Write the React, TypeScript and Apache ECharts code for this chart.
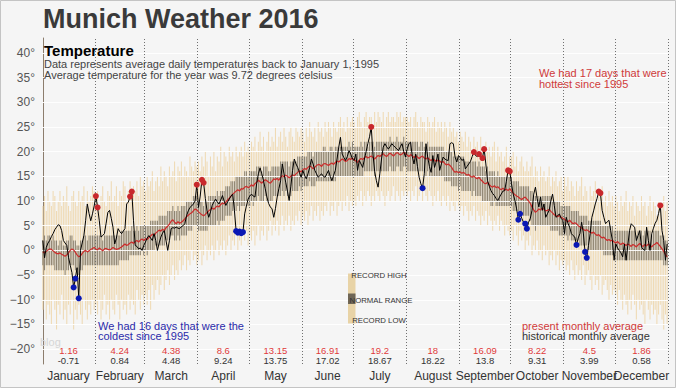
import React, { useEffect, useRef } from "react";
import * as echarts from "echarts";

const MONTHS = ["January", "February", "March", "April", "May", "June", "July", "August", "September", "October", "November", "December"];
const MONTH_DAYS = [31, 29, 31, 30, 31, 30, 31, 31, 30, 31, 30, 31];
const PRESENT_AVG = ["1.16", "4.24", "4.38", "8.6", "13.15", "16.91", "19.2", "18", "16.09", "8.22", "4.5", "1.86"];
const HIST_AVG = ["-0.71", "0.84", "4.48", "9.24", "13.75", "17.02", "18.67", "18.22", "13.8", "9.31", "3.99", "0.58"];
const Y_TICKS = [-20, -15, -10, -5, 0, 5, 10, 15, 20, 25, 30, 35, 40];

// 2016 daily average temperatures, one array per month
const actual2016 = [
  [2.0, -1.5, 0.6, 1.5, 2.0, 2.8, 3.4, 4.2, 4.7, 5.2, 5.0, 4.0, 2.0, 1.5, 1.0, -1.4, -3.0, -4.5, -7.5, -5.7, -3.5, -9.7, 0.0, 1.5, 3.0, 6.0, 9.4, 7.5, 6.0, 7.4, 9.0],
  [11.0, 8.7, 6.0, 2.7, 3.0, 3.4, 5.5, 7.7, 8.1, 6.5, 4.7, 1.3, 2.5, 4.4, 3.8, 3.4, 3.9, 4.4, 9.4, 9.8, 10.9, 11.9, 6.0, 1.0, 0.8, 0.3, 0.5, 0.0, 1.0],
  [1.7, 2.5, 3.0, 2.5, 2.0, 3.4, 2.0, 0.0, 1.5, 2.7, 3.5, 4.0, 2.0, 0.0, 2.0, 4.4, 4.6, 4.5, 4.7, 4.5, 4.4, 4.8, 5.0, 5.4, 7.0, 8.0, 8.7, 9.0, 9.4, 10.0, 13.3],
  [8.7, 11.0, 14.3, 13.7, 10.5, 8.0, 6.7, 7.8, 9.1, 9.8, 10.4, 9.8, 9.4, 10.2, 11.1, 10.0, 9.1, 9.8, 10.4, 11.0, 11.4, 8.1, 3.9, 3.6, 3.8, 3.5, 3.7, 7.4, 9.0, 10.4],
  [11.0, 11.4, 11.0, 10.8, 13.5, 15.5, 16.7, 15.5, 14.1, 12.5, 10.8, 9.5, 8.8, 8.4, 6.7, 8.5, 10.8, 12.5, 14.1, 17.5, 15.5, 13.8, 12.0, 10.1, 13.0, 16.2, 18.5, 17.5, 16.8, 15.8, 14.8],
  [16.2, 15.2, 14.5, 15.5, 16.8, 18.5, 17.5, 16.2, 15.5, 14.8, 15.2, 15.5, 15.0, 14.8, 15.5, 16.2, 15.0, 14.1, 15.2, 16.2, 18.5, 20.9, 22.9, 19.5, 18.8, 18.2, 19.0, 20.2, 19.5, 18.5],
  [18.2, 19.5, 16.2, 18.2, 17.5, 16.8, 18.5, 20.0, 21.6, 23.0, 25.0, 19.5, 16.0, 14.1, 12.8, 15.5, 18.5, 20.9, 21.6, 21.0, 20.5, 21.0, 21.6, 21.2, 20.9, 20.5, 20.2, 21.0, 21.6, 20.0, 18.9],
  [20.5, 21.6, 21.9, 19.0, 17.5, 19.5, 17.0, 14.8, 13.5, 12.6, 15.5, 21.6, 18.9, 17.0, 15.8, 19.2, 16.8, 18.0, 19.5, 16.2, 17.5, 18.9, 18.5, 18.3, 18.2, 21.6, 21.8, 21.6, 18.9, 17.9, 19.2],
  [18.8, 18.2, 18.5, 16.5, 17.0, 17.5, 18.0, 19.0, 19.9, 19.2, 19.0, 19.5, 19.0, 18.7, 20.5, 17.5, 14.1, 13.0, 12.1, 11.5, 11.1, 10.5, 10.1, 10.8, 11.4, 12.0, 12.1, 14.0, 16.2, 16.0],
  [13.5, 11.4, 10.1, 8.4, 6.2, 7.4, 6.5, 5.7, 5.4, 4.4, 5.7, 6.5, 8.1, 11.4, 12.8, 10.5, 8.8, 10.8, 8.1, 9.4, 6.7, 7.4, 8.1, 10.0, 11.4, 9.1, 6.7, 7.0, 7.4, 6.5, 6.1],
  [3.4, 6.7, 5.5, 4.7, 3.4, 3.0, 2.7, 1.1, 2.5, 3.4, 5.7, 3.5, -0.3, -1.5, 1.0, 3.4, 6.7, 8.0, 9.4, 10.5, 11.9, 11.6, 8.1, 6.7, 5.4, 5.8, 6.1, 4.0, 2.0, -2.0],
  [1.3, 0.5, 0.0, -0.5, -1.3, 1.3, -2.0, 1.0, 4.0, 5.4, 5.0, 4.7, 2.0, 3.0, 4.0, 0.7, 0.2, 0.0, 4.7, 2.0, 0.0, 3.4, 4.5, 5.5, 6.1, 7.5, 9.1, 4.0, 2.0, -2.0, 1.3],
];

// historical daily average (1995-2015)
const historicalDaily = [
  [-0.3, -0.5, -0.2, 0.1, 0.3, 0.2, -0.1, -0.4, -0.6, -0.7, -0.5, -0.8, -1.0, -1.2, -0.9, -0.5, 0.0, 0.3, 0.1, -0.4, -0.9, -1.3, -1.1, -0.6, -0.2, 0.0, -0.3, -0.1, 0.2, 0.4, 0.6],
  [0.3, 0.1, 0.5, 0.2, -0.1, 0.3, 0.4, 0.2, 0.1, 0.3, 0.6, 0.4, 0.2, 0.3, 0.5, 0.7, 1.0, 1.3, 1.0, 1.2, 1.5, 1.7, 1.4, 1.8, 2.0, 1.7, 2.1, 2.3, 2.0],
  [2.4, 2.2, 2.6, 2.9, 3.3, 3.0, 3.5, 3.8, 4.1, 3.9, 4.3, 4.0, 4.6, 4.9, 5.3, 5.9, 6.2, 5.7, 5.4, 5.8, 5.5, 5.7, 6.0, 6.4, 6.8, 7.1, 7.4, 7.6, 8.0, 8.4, 8.2],
  [7.8, 7.5, 7.2, 7.0, 7.3, 7.7, 8.0, 8.3, 8.6, 8.3, 8.7, 9.0, 8.8, 9.3, 9.6, 9.4, 9.8, 10.2, 10.6, 11.0, 11.4, 11.7, 12.0, 12.3, 12.0, 12.5, 12.4, 12.8, 13.0, 12.7],
  [12.9, 13.3, 13.0, 13.5, 13.8, 14.2, 13.9, 13.6, 14.0, 14.3, 14.1, 13.8, 13.6, 14.0, 14.5, 14.3, 14.6, 14.2, 14.8, 15.1, 14.9, 15.2, 15.0, 14.7, 15.0, 15.3, 15.1, 15.5, 15.8, 16.1, 15.9],
  [16.3, 16.6, 16.4, 16.8, 17.1, 16.9, 16.5, 16.8, 17.2, 17.4, 17.3, 17.0, 17.5, 17.6, 17.4, 17.2, 17.5, 17.7, 17.4, 17.8, 18.1, 17.9, 18.2, 18.5, 18.3, 18.0, 18.2, 18.6, 18.4, 18.7],
  [18.3, 18.1, 17.8, 18.3, 18.6, 18.4, 18.8, 19.0, 18.7, 18.9, 19.1, 18.8, 18.5, 18.9, 19.2, 19.0, 19.3, 19.6, 19.2, 19.0, 19.4, 19.7, 19.4, 19.1, 19.5, 19.8, 19.6, 19.3, 19.5, 19.9, 19.6],
  [19.3, 19.0, 19.4, 19.1, 18.8, 19.2, 18.9, 18.6, 18.9, 19.1, 18.7, 18.5, 18.8, 18.4, 18.2, 18.5, 18.3, 18.0, 18.3, 18.1, 17.8, 18.0, 17.6, 17.3, 17.5, 17.2, 16.8, 16.2, 15.8, 16.0, 15.7],
  [15.9, 15.6, 15.8, 15.5, 15.2, 15.4, 15.0, 14.8, 15.1, 14.7, 14.5, 14.8, 14.3, 14.0, 13.6, 13.5, 13.8, 13.3, 13.0, 12.8, 13.1, 12.7, 12.9, 12.5, 12.3, 12.6, 12.2, 12.4, 12.1, 12.5],
  [12.0, 11.6, 11.3, 11.0, 10.8, 10.5, 10.3, 10.6, 10.8, 10.4, 10.0, 9.5, 8.8, 8.2, 7.7, 8.0, 8.4, 8.2, 8.6, 8.3, 8.0, 8.1, 8.3, 7.9, 7.6, 7.2, 7.0, 6.8, 7.1, 6.7, 6.5],
  [6.3, 6.0, 5.8, 6.1, 5.7, 5.4, 5.6, 5.4, 5.0, 4.8, 4.5, 4.3, 4.0, 4.2, 3.9, 3.7, 3.5, 3.7, 3.3, 3.0, 3.2, 2.8, 2.5, 2.7, 2.3, 2.0, 2.2, 1.9, 2.1, 1.7],
  [1.5, 1.8, 1.4, 1.2, 1.5, 1.3, 1.0, 1.3, 1.1, 0.8, 1.2, 1.0, 0.7, 1.1, 1.4, 1.0, 0.8, 1.2, 0.9, 1.3, 1.0, 0.7, 1.1, 1.3, 1.6, 1.2, 0.8, 0.3, -0.2, -0.8, -1.3],
];

const recordHigh = [
  [9, 11, 8, 12, 10, 9, 12, 11, 8, 10, 12, 9, 11, 10, 13, 9, 8, 11, 12, 10, 9, 12, 10, 11, 13, 9, 12, 10, 11, 13, 12],
  [11, 12, 9, 11, 13, 10, 9, 12, 11, 14, 10, 11, 13, 9, 12, 11, 14, 13, 10, 12, 14, 12, 13, 12, 14, 11, 15, 13, 14],
  [12, 15, 13, 14, 16, 12, 14, 15, 13, 17, 14, 16, 15, 13, 17, 15, 16, 18, 14, 17, 16, 18, 15, 17, 16, 15, 19, 17, 16, 18, 17],
  [18, 16, 19, 17, 20, 18, 15, 19, 17, 20, 16, 19, 18, 21, 17, 20, 19, 18, 21, 19, 20, 18, 21, 19, 20, 21, 19, 22, 20, 21],
  [20, 22, 21, 23, 20, 22, 24, 21, 23, 20, 22, 24, 21, 23, 22, 25, 21, 23, 24, 22, 25, 23, 21, 24, 25, 23, 22, 25, 24, 23, 25],
  [24, 22, 25, 23, 26, 24, 23, 25, 22, 26, 24, 25, 23, 26, 24, 26, 25, 23, 26, 25, 24, 26, 27, 25, 26, 24, 27, 25, 26, 27],
  [26, 25, 27, 28, 26, 25, 27, 28, 26, 27, 27, 25, 28, 26, 28, 27, 26, 28, 25, 27, 28, 26, 27, 27, 26, 28, 27, 28, 26, 27, 27],
  [27, 26, 27, 25, 27, 28, 26, 25, 27, 26, 26, 24, 27, 26, 25, 26, 27, 24, 26, 25, 26, 24, 26, 25, 23, 26, 24, 25, 23, 24, 22],
  [24, 23, 22, 24, 21, 23, 22, 20, 23, 21, 22, 20, 23, 21, 19, 22, 20, 21, 19, 21, 22, 18, 21, 19, 20, 18, 19, 21, 17, 19],
  [19, 20, 17, 19, 16, 18, 19, 17, 16, 18, 16, 17, 19, 15, 17, 16, 14, 17, 15, 16, 14, 15, 17, 13, 15, 14, 16, 13, 14, 15, 12],
  [15, 13, 15, 12, 14, 13, 11, 14, 12, 13, 15, 11, 13, 12, 10, 13, 11, 12, 14, 10, 12, 11, 13, 10, 11, 9, 12, 10, 11, 9],
  [11, 10, 8, 11, 9, 10, 12, 8, 10, 9, 11, 7, 10, 9, 8, 11, 9, 10, 7, 9, 11, 8, 10, 9, 7, 10, 8, 9, 11, 8, 10],
];

const recordLow = [
  [-12, -10, -14, -11, -13, -15, -10, -12, -16, -11, -13, -9, -14, -12, -15, -11, -13, -10, -16, -12, -14, -11, -13, -15, -10, -12, -14, -11, -13, -10, -12],
  [-11, -13, -10, -14, -12, -9, -13, -11, -14, -10, -12, -13, -9, -11, -14, -10, -12, -11, -13, -9, -12, -10, -11, -13, -8, -10, -12, -9, -11],
  [-9, -11, -8, -12, -7, -10, -8, -6, -9, -7, -5, -8, -6, -4, -7, -5, -3, -6, -4, -5, -2, -4, -3, -1, -4, -2, -3, 0, -2, -1, -3],
  [-2, 0, -3, -1, 1, -2, 0, -1, 1, -2, 0, 2, -1, 1, 0, 2, -1, 1, 3, 0, 2, 1, 3, 0, 2, 1, 3, 2, 4, 1],
  [3, 2, 4, 1, 3, 5, 2, 4, 3, 5, 2, 4, 6, 3, 5, 4, 6, 3, 5, 7, 4, 6, 5, 7, 4, 6, 5, 7, 6, 8, 5],
  [7, 6, 8, 5, 7, 9, 6, 8, 7, 9, 6, 8, 7, 9, 8, 10, 7, 9, 8, 10, 7, 9, 10, 8, 10, 9, 11, 8, 10, 9],
  [10, 9, 11, 10, 12, 9, 11, 10, 12, 11, 9, 11, 10, 12, 11, 10, 12, 11, 9, 11, 12, 10, 11, 13, 10, 12, 11, 10, 12, 11, 12],
  [11, 12, 10, 12, 11, 13, 10, 11, 12, 10, 12, 11, 10, 12, 11, 9, 11, 10, 12, 10, 9, 11, 10, 9, 11, 8, 10, 9, 8, 10, 9],
  [8, 9, 7, 9, 8, 6, 8, 7, 9, 6, 8, 7, 5, 7, 6, 8, 5, 7, 6, 4, 6, 5, 7, 4, 6, 5, 3, 5, 4, 3],
  [4, 2, 5, 3, 1, 4, 2, 3, 0, 2, 1, 3, -1, 1, 0, 2, -1, 0, -2, 1, -1, 0, -3, -1, -2, 0, -3, -1, -4, -2, -3],
  [-2, -4, -3, -5, -2, -4, -6, -3, -5, -4, -6, -3, -7, -5, -4, -6, -8, -5, -7, -6, -8, -5, -9, -7, -6, -8, -10, -7, -9, -8],
  [-9, -11, -8, -10, -12, -9, -11, -13, -10, -12, -9, -11, -14, -10, -12, -11, -13, -15, -10, -12, -14, -11, -13, -12, -15, -13, -11, -14, -16, -13, -15],
];

const normalHigh = [
  [2, 3, 2, 3, 3, 2, 3, 2, 2, 1, 2, 2, 1, 1, 2, 2, 3, 3, 2, 2, 1, 1, 2, 2, 3, 3, 2, 3, 3, 3, 3],
  [3, 3, 3, 3, 2, 3, 3, 3, 3, 3, 3, 3, 3, 3, 3, 4, 4, 4, 4, 4, 4, 5, 4, 4, 5, 4, 5, 5, 5],
  [5, 5, 5, 6, 6, 6, 6, 6, 7, 7, 7, 7, 7, 8, 8, 8, 9, 8, 8, 9, 8, 9, 9, 9, 10, 10, 10, 10, 11, 11, 11],
  [10, 10, 10, 9, 10, 10, 11, 11, 11, 11, 11, 12, 11, 12, 12, 12, 13, 13, 13, 14, 14, 14, 15, 15, 15, 15, 15, 16, 16, 15],
  [16, 16, 16, 16, 17, 17, 17, 16, 17, 17, 17, 16, 16, 17, 17, 17, 17, 17, 18, 18, 18, 18, 18, 17, 18, 18, 18, 18, 19, 19, 19],
  [19, 19, 19, 20, 20, 20, 19, 20, 20, 20, 20, 20, 21, 21, 20, 20, 21, 21, 20, 21, 21, 21, 21, 21, 21, 21, 21, 22, 21, 22],
  [21, 21, 21, 21, 22, 21, 22, 22, 21, 22, 22, 22, 21, 22, 22, 22, 22, 22, 22, 22, 22, 23, 22, 22, 22, 23, 22, 22, 22, 23, 22],
  [22, 22, 22, 22, 22, 22, 22, 21, 22, 22, 21, 21, 22, 21, 21, 21, 21, 21, 21, 21, 21, 21, 20, 20, 20, 20, 20, 19, 19, 19, 19],
  [19, 19, 19, 18, 18, 18, 18, 18, 18, 18, 17, 18, 17, 17, 17, 16, 17, 16, 16, 16, 16, 15, 16, 15, 15, 15, 15, 15, 15, 15],
  [15, 14, 14, 14, 14, 13, 13, 13, 13, 13, 13, 12, 12, 11, 11, 11, 11, 11, 11, 11, 11, 11, 11, 11, 10, 10, 10, 10, 10, 9, 9],
  [9, 9, 9, 9, 8, 8, 8, 8, 8, 7, 7, 7, 7, 7, 6, 6, 6, 6, 6, 6, 6, 6, 5, 5, 5, 5, 5, 5, 5, 4],
  [4, 4, 4, 4, 4, 4, 4, 4, 4, 4, 4, 4, 3, 4, 4, 4, 3, 4, 4, 4, 4, 3, 4, 4, 4, 4, 3, 3, 3, 2, 2],
];

const normalLow = [
  [-3, -4, -3, -3, -3, -3, -3, -4, -4, -4, -4, -4, -4, -5, -4, -4, -3, -3, -3, -4, -4, -5, -4, -4, -3, -3, -3, -3, -3, -3, -3],
  [-3, -3, -3, -3, -3, -3, -3, -3, -3, -3, -3, -3, -3, -3, -2, -2, -2, -2, -2, -2, -1, -1, -1, -1, -1, -1, -1, 0, -1],
  [0, -1, 0, 0, 0, 0, 1, 1, 1, 1, 1, 1, 2, 2, 2, 3, 3, 2, 2, 3, 2, 3, 3, 3, 3, 4, 4, 4, 5, 5, 5],
  [4, 4, 4, 4, 4, 4, 5, 5, 5, 5, 5, 6, 5, 6, 6, 6, 7, 7, 7, 7, 8, 8, 8, 9, 8, 9, 9, 9, 10, 9],
  [9, 10, 9, 10, 10, 11, 10, 10, 10, 11, 10, 10, 10, 10, 11, 11, 11, 11, 11, 12, 11, 12, 11, 11, 11, 12, 12, 12, 12, 13, 12],
  [13, 13, 13, 13, 14, 13, 13, 13, 14, 14, 14, 14, 14, 14, 14, 14, 14, 14, 14, 14, 15, 15, 15, 15, 15, 15, 15, 15, 15, 15],
  [15, 15, 15, 15, 15, 15, 16, 16, 16, 16, 16, 16, 15, 16, 16, 16, 16, 16, 16, 16, 16, 17, 16, 16, 16, 17, 17, 16, 16, 17, 17],
  [16, 16, 16, 16, 16, 16, 16, 16, 16, 16, 16, 15, 16, 15, 15, 15, 15, 15, 15, 15, 15, 15, 14, 14, 14, 14, 13, 13, 13, 13, 12],
  [13, 12, 12, 12, 12, 12, 12, 11, 12, 11, 11, 11, 11, 10, 10, 10, 10, 10, 9, 9, 10, 9, 9, 9, 9, 9, 9, 9, 9, 9],
  [9, 8, 8, 8, 8, 7, 7, 7, 7, 7, 7, 6, 5, 5, 4, 5, 5, 5, 5, 5, 5, 5, 5, 4, 4, 4, 4, 4, 3, 3, 3],
  [3, 3, 2, 3, 2, 2, 2, 2, 2, 1, 1, 1, 1, 1, 0, 0, 0, 0, 0, 0, 0, 0, 0, -1, -1, -1, -1, -1, -1, -1],
  [-2, -2, -2, -2, -2, -2, -2, -2, -2, -2, -2, -2, -2, -2, -2, -2, -2, -2, -2, -2, -2, -2, -2, -2, -2, -2, -2, -2, -3, -3, -3],
];

// day-of-year indices (0-based) of 2016 record highs / record lows
const recordHighDays = [31, 32, 51, 52, 90, 93, 94, 192, 252, 255, 257, 258, 272, 273, 325, 326, 361];
const recordLowDays = [18, 19, 21, 113, 114, 115, 116, 117, 222, 278, 279, 282, 283, 312, 317, 318];

const FONT = "'Liberation Sans', Arial, sans-serif";

function monthStarts(): number[] {
  const s: number[] = [];
  let acc = 0;
  for (const d of MONTH_DAYS) {
    s.push(acc);
    acc += d;
  }
  return s;
}

function toDaily(byMonth: number[][]): [number, number][] {
  const starts = monthStarts();
  const out: [number, number][] = [];
  byMonth.forEach((arr, m) => arr.forEach((v, i) => out.push([starts[m] + i, v])));
  return out;
}

function toRanges(lowByMonth: number[][], highByMonth: number[][]): [number, number, number][] {
  const lo = toDaily(lowByMonth);
  const hiMap = new Map(toDaily(highByMonth).map(([d, v]) => [d, v]));
  return lo.filter(([d]) => hiMap.has(d)).map(([d, v]) => [d, v, hiMap.get(d) as number]);
}

export default function App() {
  const ref = useRef<HTMLDivElement>(null);

  useEffect(() => {
    if (!ref.current) return;
    const chart = echarts.init(ref.current, undefined, { renderer: "svg" });
    const starts = monthStarts();
    const centers = starts.map((s, i) => s + MONTH_DAYS[i] / 2 - 0.5);
    const bounds = starts.slice(1).map((s) => s - 0.5).concat([365.5]);

    const actualDaily = toDaily(actual2016);
    const actualMap = new Map(actualDaily.map(([d, v]) => [d, v]));
    const histDaily = toDaily(historicalDaily);
    const recordRanges = toRanges(recordLow, recordHigh);
    const normalRanges = toRanges(normalLow, normalHigh);

    const barRender = (color: string, w: number) => (params: any, api: any) => {
      const x = api.value(0);
      const lo = api.value(1);
      const hi = api.value(2);
      const p1 = api.coord([x, hi]);
      const p2 = api.coord([x, lo]);
      return {
        type: "rect",
        shape: { x: p1[0] - w / 2, y: p1[1], width: w, height: p2[1] - p1[1] },
        style: { fill: color },
      };
    };

    const textRender = (which: string) => (params: any, api: any) => {
      const p = api.coord([api.value(0), api.value(1)]);
      const idx = params.dataIndex;
      const t = which === "red" ? PRESENT_AVG[idx] : HIST_AVG[idx];
      return {
        type: "text",
        x: p[0],
        y: p[1],
        style: {
          text: t,
          fill: which === "red" ? "#e03a3a" : "#333333",
          font: `9.5px ${FONT}`,
          align: "center",
          verticalAlign: "middle",
        },
      };
    };

    const txt = (x: number, y: number, text: string, font: string, fill: string, align = "left") => ({
      type: "text",
      x,
      y,
      z: 100,
      style: { text, font, fill, align, verticalAlign: "middle" },
    });

    const option: any = {
      animation: false,
      backgroundColor: "#f5f5f5",
      textStyle: { fontFamily: FONT },
      grid: { left: 42, right: 8, top: 38, bottom: 24 },
      xAxis: {
        type: "value",
        min: -0.5,
        max: 365.5,
        axisLine: { show: false },
        axisTick: { show: false },
        splitLine: { show: false },
        axisLabel: { show: false },
      },
      yAxis: {
        type: "value",
        min: -23,
        max: 43,
        axisLine: { show: true, lineStyle: { color: "#8c7d6d", width: 1 } },
        axisTick: { show: false },
        splitLine: { show: false },
        axisLabel: {
          customValues: Y_TICKS,
          formatter: (v: number) => (v < 0 ? "\u2212" + Math.abs(v) : String(v)) + "°",
          fontSize: 12,
          color: "#555",
          margin: 7,
          fontFamily: FONT,
        },
      },
      series: [
        {
          type: "custom",
          name: "record",
          z: 1,
          renderItem: barRender("#efdab4", 1.05),
          encode: { x: 0, y: [1, 2] },
          data: recordRanges,
          silent: true,
        },
        {
          type: "custom",
          name: "normal",
          z: 2,
          renderItem: barRender("#8a8170", 1.0),
          encode: { x: 0, y: [1, 2] },
          data: normalRanges,
          silent: true,
        },
        {
          type: "line",
          name: "grid",
          z: 3,
          data: [],
          silent: true,
          markLine: {
            z: 3,
            silent: true,
            symbol: "none",
            label: { show: false },
            animation: false,
            data: [
              ...Y_TICKS.map((v) => ({ yAxis: v, lineStyle: { color: "#ffffff", width: 1, type: "solid", opacity: 0.9 } })),
              ...bounds.map((b) => ({ xAxis: b, lineStyle: { color: "#707070", width: 1, type: [1, 2] } })),
            ],
          },
        },
        {
          type: "line",
          name: "historical",
          z: 6,
          data: histDaily,
          showSymbol: false,
          symbol: "none",
          lineStyle: { color: "#cc2b2b", width: 1.2 },
          silent: true,
        },
        {
          type: "line",
          name: "2016",
          z: 7,
          data: actualDaily,
          showSymbol: false,
          symbol: "none",
          lineStyle: { color: "#000000", width: 1 },
          silent: true,
        },
        {
          type: "scatter",
          name: "highs",
          z: 8,
          symbolSize: 6,
          itemStyle: { color: "#c8282c", opacity: 1 },
          data: recordHighDays.map((d) => [d, actualMap.get(d)]),
          silent: true,
        },
        {
          type: "scatter",
          name: "lows",
          z: 8,
          symbolSize: 6,
          itemStyle: { color: "#0a18b4", opacity: 1 },
          data: recordLowDays.map((d) => [d, actualMap.get(d)]),
          silent: true,
        },
        {
          type: "custom",
          name: "presentAvg",
          z: 8,
          renderItem: textRender("red"),
          encode: { x: 0, y: 1 },
          data: centers.map((c) => [c, -20.17]),
          silent: true,
        },
        {
          type: "custom",
          name: "histAvg",
          z: 8,
          renderItem: textRender("black"),
          encode: { x: 0, y: 1 },
          data: centers.map((c) => [c, -22.2]),
          silent: true,
        },
        {
          type: "custom",
          name: "months",
          z: 8,
          renderItem: (params: any, api: any) => {
            const p = api.coord([api.value(0), -23]);
            return {
              type: "text",
              x: p[0],
              y: p[1] + 12,
              style: {
                text: MONTHS[params.dataIndex],
                fill: "#333",
                font: `12px ${FONT}`,
                align: "center",
                verticalAlign: "middle",
              },
            };
          },
          encode: { x: 0, y: 1 },
          clip: false,
          data: centers.map((c) => [c, -23]),
          silent: true,
        },
      ],
      graphic: [
        {
          type: "rect",
          z: 99,
          shape: { x: 348, y: 273.5, width: 7.5, height: 50 },
          style: { fill: "#e8d3a6" },
        },
        {
          type: "rect",
          z: 99,
          shape: { x: 348, y: 293.5, width: 7.5, height: 10.5 },
          style: { fill: "#6f6656" },
        },
        {
          type: "text",
          left: 43,
          top: 5,
          z: 100,
          style: { text: "Munich Weather 2016", font: `bold 27px ${FONT}`, fill: "#3a3a3a" },
        },
        txt(44, 50, "Temperature", `bold 15px ${FONT}`, "#000"),
        txt(44, 64, "Data represents average daily temperatures back to January 1, 1995", `11px ${FONT}`, "#444"),
        txt(44, 75, "Average temperature for the year was 9.72 degrees celsius", `11px ${FONT}`, "#444"),
        txt(539, 72.5, "We had 17 days that were", `11px ${FONT}`, "#d03a3a"),
        txt(539, 83.5, "hottest since 1995", `11px ${FONT}`, "#d03a3a"),
        txt(98, 325.5, "We had 16 days that were the", `11px ${FONT}`, "#2a2aaa"),
        txt(98, 336, "coldest since 1995", `11px ${FONT}`, "#2a2aaa"),
        txt(522, 325.5, "present monthly average", `11px ${FONT}`, "#d03a3a"),
        txt(522, 336, "historical monthly average", `11px ${FONT}`, "#333"),
        txt(379, 275.5, "RECORD HIGH", `7.8px ${FONT}`, "#333", "center"),
        txt(381, 300.5, "NORMAL RANGE", `7.8px ${FONT}`, "#333", "center"),
        txt(379, 320.7, "RECORD LOW", `7.8px ${FONT}`, "#333", "center"),
        txt(40, 342, "blog", `11px ${FONT}`, "#d6d6d6"),
        {
          type: "rect",
          shape: { x: 0.5, y: 0.5, width: 675, height: 387 },
          style: { fill: "none", stroke: "#c4c4c4", lineWidth: 1 },
          z: 100,
        },
      ],
    };

    chart.setOption(option);
    return () => chart.dispose();
  }, []);

  return <div ref={ref} style={{ position: "fixed", left: 0, top: 0, width: 676, height: 388 }} />;
}
